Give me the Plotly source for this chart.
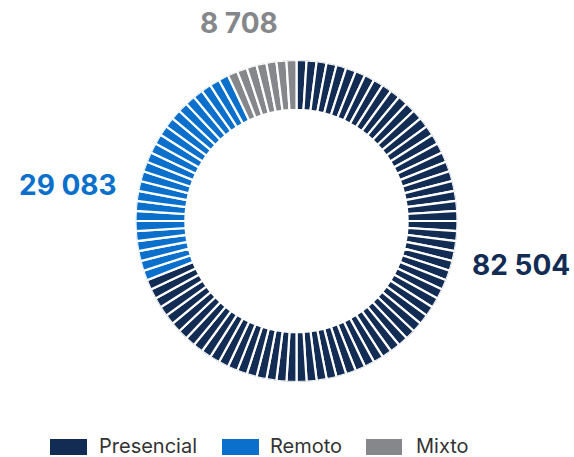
import plotly.graph_objects as go

categories = ["Presencial", "Remoto", "Mixto"]
values = [82504, 29083, 8708]
value_labels = ["82 504", "29 083", "8 708"]
colors = ["#132c54", "#0a70cc", "#85878a"]

N_SEG = 100
total = sum(values)
counts = [round(v / total * N_SEG) for v in values]
seg_w = 360 / N_SEG

fig = go.Figure()
start = 0
for cat, n, col in zip(categories, counts, colors):
    thetas = [(start + i) * seg_w + seg_w / 2 for i in range(n)]
    fig.add_trace(go.Barpolar(
        r=[0.31] * n, base=[0.69] * n, theta=thetas, width=[seg_w] * n,
        marker=dict(color=col, line=dict(color="white", width=2.2)),
        name=cat, showlegend=False, hoverinfo="skip"))
    start += n

W, H = 574, 457
cx, cy, R = 296.5, 221, 161
fig.update_layout(
    width=W, height=H, margin=dict(l=0, r=0, t=0, b=0),
    paper_bgcolor="white", plot_bgcolor="white",
    polar=dict(
        domain=dict(x=[(cx - R) / W, (cx + R) / W], y=[1 - (cy + R) / H, 1 - (cy - R) / H]),
        bgcolor="white", bargap=0,
        radialaxis=dict(range=[0, 1], visible=False, showgrid=False),
        angularaxis=dict(direction="clockwise", rotation=90, visible=False, showgrid=False),
    ),
    font=dict(family="Inter, Roboto, sans-serif"),
)

# value labels
label_pos = [(521, 265), (68, 185), (239, 23)]
for (x, y), txt, col in zip(label_pos, value_labels, colors):
    fig.add_annotation(x=x / W, y=1 - y / H, xref="paper", yref="paper", text=f"<b>{txt}</b>",
                       showarrow=False, font=dict(size=28, color=col, family="Inter, sans-serif"),
                       xanchor="center", yanchor="middle")

# custom legend
leg = [(50, 87, 97), (222, 259, 268), (366, 402, 414)]
for (x0, x1, tx), cat, col in zip(leg, categories, colors):
    fig.add_shape(type="rect", xref="paper", yref="paper", x0=x0 / W, x1=x1 / W,
                  y0=1 - 455 / H, y1=1 - 439 / H, fillcolor=col, line=dict(width=0))
    fig.add_annotation(x=tx / W, y=1 - 446 / H, xref="paper", yref="paper", text=cat, showarrow=False,
                       xanchor="left", yanchor="middle", font=dict(size=20, color="#333333", family="Inter, sans-serif"))

fig.write_html("out.html", config={"displayModeBar": False},
               post_script="document.body.style.margin='0px';document.body.style.overflow='hidden';")
